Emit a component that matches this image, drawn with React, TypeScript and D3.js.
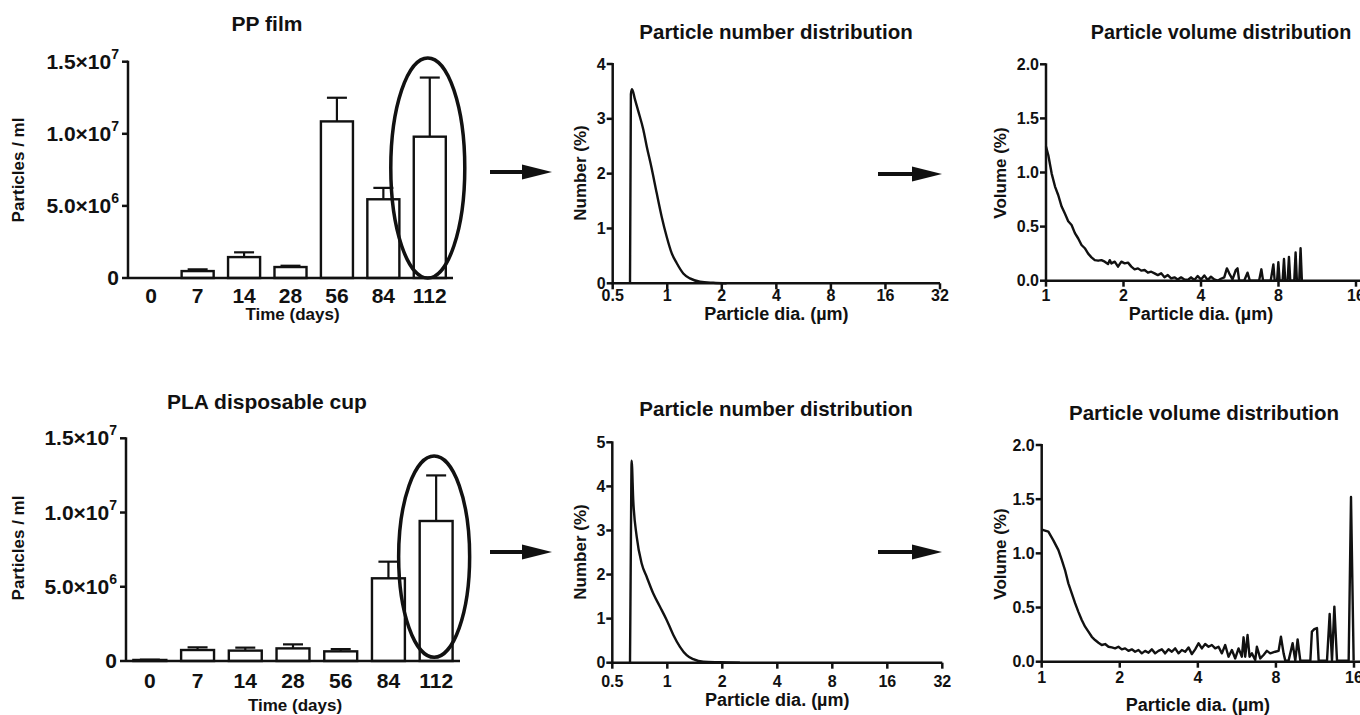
import React from "react";
import * as d3 from "d3";

// bar charts: particle counts per ml over time
const days = ["0", "7", "14", "28", "56", "84", "112"];
const ppMean = [0, 0.48e6, 1.45e6, 0.76e6, 10.86e6, 5.46e6, 9.8e6];
const ppSd = [0, 0.12e6, 0.33e6, 0.09e6, 1.64e6, 0.79e6, 4.1e6];
const plaMean = [0.07e6, 0.74e6, 0.7e6, 0.85e6, 0.65e6, 5.57e6, 9.43e6];
const plaSd = [0.02e6, 0.18e6, 0.2e6, 0.27e6, 0.15e6, 1.12e6, 3.07e6];
const countTicks = [0, 5e6, 1e7, 1.5e7];

// number distributions (diameter in um, %)
const ppNumDia = [0.623, 0.63, 0.639, 0.664, 0.692, 0.738, 0.77, 0.82, 0.874, 0.931, 0.993, 1.058, 1.127, 1.226, 1.334, 1.516, 1.795, 2.126];
const ppNumPct = [0, 3.45, 3.54, 3.35, 3.14, 2.8, 2.5, 2.1, 1.65, 1.22, 0.85, 0.55, 0.37, 0.18, 0.09, 0.03, 0.01, 0];
const plaNumDia = [0.625, 0.632, 0.638, 0.651, 0.68, 0.724, 0.771, 0.838, 0.912, 0.992, 1.079, 1.173, 1.276, 1.388, 1.575, 1.942, 2.498];
const plaNumPct = [0, 2.74, 4.58, 3.69, 2.86, 2.25, 1.95, 1.57, 1.27, 0.97, 0.63, 0.36, 0.17, 0.08, 0.02, 0.01, 0];
const numTicksX = [0.5, 1, 2, 4, 8, 16, 32];

// volume distributions (diameter in um, %)
const ppVolDia = [
  1.0, 1.021, 1.052, 1.084, 1.116, 1.15, 1.184, 1.22, 1.257, 1.295, 1.334, 1.374, 1.415, 1.458, 1.502, 1.547,
  1.594, 1.642, 1.691, 1.742, 1.768, 1.795, 1.849, 1.904, 1.962, 2.021, 2.082, 2.145, 2.209, 2.276, 2.344, 2.415,
  2.488, 2.563, 2.64, 2.719, 2.801, 2.886, 2.973, 3.062, 3.155, 3.249, 3.347, 3.448, 3.552, 3.659, 3.77, 3.883,
  4.0, 4.12, 4.245, 4.372, 4.504, 4.64, 4.78, 4.924, 5.042, 5.148, 5.303, 5.463, 5.545, 5.628, 5.885, 6.063,
  6.189, 6.724, 6.865, 6.968, 7.46, 7.641, 7.73, 7.9, 7.989, 8.08, 8.3, 8.402, 8.5, 8.68, 8.784, 8.89,
  9.21, 9.322, 9.43, 9.63, 9.746, 9.86,
];
const ppVolPct = [
  1.24, 1.16, 0.99, 0.87, 0.79, 0.685, 0.62, 0.55, 0.515, 0.44, 0.39, 0.33, 0.3, 0.25, 0.216, 0.19,
  0.185, 0.19, 0.176, 0.154, 0.19, 0.16, 0.176, 0.13, 0.176, 0.16, 0.167, 0.13, 0.105, 0.114, 0.093, 0.099,
  0.074, 0.083, 0.068, 0.052, 0.068, 0.031, 0.052, 0.022, 0.031, 0.012, 0.031, 0.012, 0.006, 0.031, 0.006, 0.043,
  0.012, 0.049, 0.006, 0.037, 0.012, 0.0, 0.018, 0.031, 0.114, 0.068, 0.012, 0.099, 0.114, 0.0, 0.0, 0.074,
  0.0, 0.0, 0.105, 0.0, 0.0, 0.15, 0.0, 0.0, 0.17, 0.0, 0.0, 0.2, 0.0, 0.0, 0.22, 0.0,
  0.0, 0.26, 0.0, 0.0, 0.3, 0.0,
];
const plaVolDia = [
  1.0, 1.015, 1.061, 1.109, 1.16, 1.195, 1.23, 1.267, 1.306, 1.345, 1.385, 1.427, 1.47, 1.514, 1.56, 1.606,
  1.655, 1.704, 1.756, 1.809, 1.863, 1.919, 1.976, 2.036, 2.097, 2.16, 2.225, 2.292, 2.361, 2.432, 2.505, 2.581,
  2.658, 2.738, 2.82, 2.905, 2.993, 3.083, 3.175, 3.271, 3.369, 3.47, 3.575, 3.682, 3.793, 3.906, 4.024, 4.145,
  4.269, 4.398, 4.53, 4.666, 4.806, 4.951, 5.1, 5.253, 5.411, 5.574, 5.741, 5.914, 6.002, 6.091, 6.219, 6.33,
  6.463, 6.657, 6.756, 6.96, 7.169, 7.385, 7.607, 7.953, 8.192, 8.364, 8.564, 8.693, 8.953, 9.277, 9.5, 9.699,
  9.932, 10.86, 11.01, 11.25, 11.52, 11.69, 12.59, 12.89, 13.16, 13.44, 13.76, 15.26, 15.58, 15.95,
];
const plaVolPct = [
  1.215, 1.215, 1.2, 1.12, 1.03, 0.94, 0.846, 0.723, 0.63, 0.54, 0.46, 0.385, 0.323, 0.277, 0.23, 0.2,
  0.175, 0.154, 0.163, 0.138, 0.132, 0.123, 0.138, 0.114, 0.123, 0.1, 0.114, 0.092, 0.108, 0.077, 0.1, 0.083,
  0.114, 0.077, 0.1, 0.114, 0.077, 0.114, 0.092, 0.123, 0.077, 0.108, 0.092, 0.132, 0.07, 0.114, 0.17, 0.123,
  0.163, 0.138, 0.154, 0.123, 0.138, 0.077, 0.154, 0.046, 0.108, 0.03, 0.123, 0.046, 0.225, 0.046, 0.246, 0.046,
  0.077, 0.015, 0.138, 0.03, 0.062, 0.1, 0.077, 0.092, 0.1, 0.23, 0.077, 0.01, 0.01, 0.17, 0.01, 0.206,
  0.01, 0.01, 0.277, 0.3, 0.31, 0.01, 0.01, 0.44, 0.01, 0.508, 0.01, 0.01, 1.52, 0.01,
];
const volTicksX = [1, 2, 4, 8, 16];
const volTicksY = [0, 0.5, 1, 1.5, 2];

const FONT = "'Liberation Sans', Arial, Helvetica, sans-serif";
const INK = "#111";

function sci(v: number) {
  if (v === 0) return { m: "0", e: "" };
  const e = Math.floor(Math.log10(v));
  return { m: (v / Math.pow(10, e)).toFixed(1) + "×10", e: String(e) };
}

function YTitle({ x, y, text, size }: any) {
  return (
    <text transform={`translate(${x},${y}) rotate(-90)`} textAnchor="middle" dominantBaseline="central"
      fontSize={size} fontWeight="bold" fill={INK}>{text}</text>
  );
}

function Arrow({ x1, x2, y }: any) {
  return (
    <g>
      <line x1={x1} x2={x2 - 26} y1={y} y2={y} stroke={INK} strokeWidth={4} />
      <polygon points={`${x2 - 30},${y - 7.5} ${x2},${y} ${x2 - 30},${y + 7.5}`} fill={INK} />
    </g>
  );
}

function BarPanel({ p, mean, sd, title }: any) {
  const x = d3.scaleBand().domain(days).range([p.axisX, p.x1]).paddingInner(0.31).paddingOuter(0.155);
  const y = d3.scaleLinear().domain([0, 1.5e7]).range([p.y0, p.yTop]);
  const bw = x.bandwidth();
  const cx = (d: string) => (x(d) as number) + bw / 2;
  const last = days[days.length - 1];
  const eTop = y(p.ellTop);
  const eBot = y(p.ellBot);
  return (
    <g>
      <text x={p.titleX} y={p.titleY} textAnchor="middle" fontSize={21} fontWeight="bold" fill={INK}>{title}</text>
      {days.map((d, i) =>
        mean[i] > 0 ? (
          <g key={d}>
            <line x1={cx(d)} x2={cx(d)} y1={y(mean[i])} y2={y(mean[i] + sd[i])} stroke={INK} strokeWidth={2.2} />
            <line x1={cx(d) - 10} x2={cx(d) + 10} y1={y(mean[i] + sd[i])} y2={y(mean[i] + sd[i])} stroke={INK} strokeWidth={2.2} />
            <rect x={x(d)} y={y(mean[i])} width={bw} height={p.y0 - y(mean[i])} fill="#fff" stroke={INK} strokeWidth={2.4} />
          </g>
        ) : null
      )}
      <line x1={p.axisX} x2={p.x1} y1={p.y0} y2={p.y0} stroke={INK} strokeWidth={2.5} />
      <line x1={p.axisX} x2={p.axisX} y1={p.y0 + 1} y2={p.yTop - 1} stroke={INK} strokeWidth={2.5} />
      {countTicks.map((t) => {
        const s = sci(t);
        return (
          <g key={t}>
            <line x1={p.axisX - 6} x2={p.axisX} y1={y(t)} y2={y(t)} stroke={INK} strokeWidth={2.5} />
            <text x={p.axisX - 9} y={y(t) + 7} textAnchor="end" fontSize={21} fontWeight="bold" fill={INK}>
              {s.m}
              {s.e && <tspan dy={-10} fontSize={14}>{s.e}</tspan>}
            </text>
          </g>
        );
      })}
      {days.map((d) => (
        <text key={d} x={cx(d)} y={p.tickY} textAnchor="middle" fontSize={21} fontWeight="bold" fill={INK}>{d}</text>
      ))}
      <text x={(p.axisX + p.x1) / 2 + 2} y={p.xTitleY} textAnchor="middle" fontSize={17} fontWeight="bold" fill={INK}>Time (days)</text>
      <YTitle x={p.yTitleX} y={p.yTitleY} text="Particles / ml" size={17} />
      <ellipse cx={cx(last) - 2} cy={(eTop + eBot) / 2} rx={p.ellRx} ry={(eBot - eTop) / 2}
        fill="none" stroke={INK} strokeWidth={3.5} />
    </g>
  );
}

function DistPanel({ p, dia, pct, xTicks, yTicks, yFmt, yLabel, title, smooth }: any) {
  const x = d3.scaleLog().base(2).domain([xTicks[0], xTicks[xTicks.length - 1]]).range([p.axisX, p.x1]);
  const y = d3.scaleLinear().domain([0, yTicks[yTicks.length - 1]]).range([p.y0, p.yTop]);
  const pts = dia.map((d: number, i: number) => [d, pct[i]] as [number, number]);
  const path = d3.line<[number, number]>()
    .x((d) => x(d[0]))
    .y((d) => y(d[1]))
    .curve(smooth ? d3.curveMonotoneX : d3.curveLinear)(pts);
  return (
    <g>
      <text x={p.titleX} y={p.titleY} textAnchor="middle" fontSize={p.titleSize} fontWeight="bold" fill={INK}>{title}</text>
      <path d={path || ""} fill="none" stroke={INK} strokeWidth={2.4} strokeLinejoin="round" />
      <line x1={p.axisX} x2={p.xEnd} y1={p.y0} y2={p.y0} stroke={INK} strokeWidth={2.5} />
      <line x1={p.axisX} x2={p.axisX} y1={p.y0 + 1} y2={p.yTop - 1} stroke={INK} strokeWidth={2.5} />
      {yTicks.map((t: number) => (
        <g key={t}>
          <line x1={p.axisX - 6} x2={p.axisX} y1={y(t)} y2={y(t)} stroke={INK} strokeWidth={2.5} />
          <text x={p.axisX - 7} y={y(t) + 5.5} textAnchor="end" fontSize={16} fontWeight="bold" fill={INK}>{yFmt(t)}</text>
        </g>
      ))}
      {xTicks.map((t: number) => (
        <g key={t}>
          <line x1={x(t)} x2={x(t)} y1={p.y0} y2={p.y0 + 6} stroke={INK} strokeWidth={2.5} />
          <text x={x(t)} y={p.tickY} textAnchor="middle" fontSize={16} fontWeight="bold" fill={INK}>{t}</text>
        </g>
      ))}
      <text x={(p.axisX + p.x1) / 2} y={p.xTitleY} textAnchor="middle" fontSize={18} fontWeight="bold" fill={INK}>Particle dia. (µm)</text>
      <YTitle x={p.yTitleX} y={p.yTitleY} text={yLabel} size={17} />
    </g>
  );
}

const barTop = { axisX: 128, x1: 453, y0: 278, yTop: 61.7, titleX: 267, titleY: 31, tickY: 303, xTitleY: 320, yTitleX: 18, yTitleY: 170, ellTop: 1.526e7, ellBot: 0, ellRx: 37 };
const barBot = { axisX: 126, x1: 460, y0: 661, yTop: 438.3, titleX: 267, titleY: 409, tickY: 688, xTitleY: 711, yTitleX: 18, yTitleY: 548, ellTop: 1.38e7, ellBot: 0.25e6, ellRx: 35.5 };
const numTop = { axisX: 612.7, x1: 940, xEnd: 940, y0: 283.3, yTop: 64, titleX: 776, titleY: 39, titleSize: 20.5, tickY: 301, xTitleY: 320, yTitleX: 580, yTitleY: 173 };
const numBot = { axisX: 612.3, x1: 942.3, xEnd: 942.3, y0: 662.7, yTop: 442.3, titleX: 776, titleY: 416, titleSize: 20.5, tickY: 687, xTitleY: 706, yTitleX: 580, yTitleY: 552 };
const volTop = { axisX: 1046, x1: 1356, xEnd: 1362, y0: 280.7, yTop: 64.3, titleX: 1221, titleY: 39, titleSize: 19.8, tickY: 301, xTitleY: 320, yTitleX: 1000, yTitleY: 173 };
const volBot = { axisX: 1041.7, x1: 1354, xEnd: 1362, y0: 661.7, yTop: 445, titleX: 1204, titleY: 420, titleSize: 20.5, tickY: 683, xTitleY: 711, yTitleX: 1000, yTitleY: 554 };

export default function App() {
  const intFmt = (t: number) => String(t);
  const volFmt = d3.format(".1f");
  return (
    <div style={{ position: "absolute", left: 0, top: 0, width: 1360, height: 715, overflow: "hidden", background: "#fff" }}>
      <svg width={1360} height={715} style={{ display: "block", fontFamily: FONT }}>
        <rect width={1360} height={715} fill="#fff" />
        <BarPanel p={barTop} mean={ppMean} sd={ppSd} title="PP film" />
        <BarPanel p={barBot} mean={plaMean} sd={plaSd} title="PLA disposable cup" />
        <DistPanel p={numTop} dia={ppNumDia} pct={ppNumPct} xTicks={numTicksX} yTicks={[0, 1, 2, 3, 4]} yFmt={intFmt}
          yLabel="Number (%)" title="Particle number distribution" smooth />
        <DistPanel p={numBot} dia={plaNumDia} pct={plaNumPct} xTicks={numTicksX} yTicks={[0, 1, 2, 3, 4, 5]} yFmt={intFmt}
          yLabel="Number (%)" title="Particle number distribution" smooth />
        <DistPanel p={volTop} dia={ppVolDia} pct={ppVolPct} xTicks={volTicksX} yTicks={volTicksY} yFmt={volFmt}
          yLabel="Volume (%)" title="Particle volume distribution" />
        <DistPanel p={volBot} dia={plaVolDia} pct={plaVolPct} xTicks={volTicksX} yTicks={volTicksY} yFmt={volFmt}
          yLabel="Volume (%)" title="Particle volume distribution" />
        <Arrow x1={490} x2={552} y={172} />
        <Arrow x1={878} x2={942} y={174} />
        <Arrow x1={490} x2={552} y={552} />
        <Arrow x1={878} x2={942} y={552} />
      </svg>
    </div>
  );
}
